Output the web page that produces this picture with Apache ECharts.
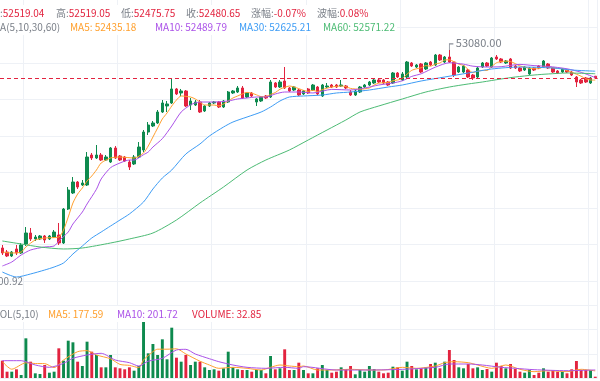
<!DOCTYPE html>
<html><head><meta charset="utf-8">
<script src="https://cdn.jsdelivr.net/npm/echarts@6/dist/echarts.min.js"></script>
<style>html,body{margin:0;padding:0;background:#fff}#c{width:600px;height:381px}</style>
</head><body><div id="c"></div>
<script>
// [open, close, low, high]
const candles = [
[48842,48735,48692,48906],[48756,48671,48649,48799],[48671,48756,48649,48778],[48821,48735,48692,48906],
[48735,48906,48714,48949],[48928,49163,48885,49291],[49163,49035,48992,49270],[49035,49077,48992,49120],
[49035,49099,49013,49120],[49099,49013,48949,49120],[49035,49099,49013,49120],[49077,49184,49056,49227],
[49120,48949,48906,49377],[48949,49676,48928,49698],[49676,50083,49655,50147],[50019,50254,49997,50361],
[50254,50147,50105,50276],[50190,50233,50169,50297],[50190,50789,50169,50896],[50832,50768,50725,50875],
[50768,50832,50747,51046],[50832,50725,50704,50875],[50725,50789,50704,50832],[50682,50982,50661,51003],
[50982,50768,50747,51025],[50811,50725,50704,50832],[50789,50704,50682,50811],[50682,50575,50511,50725],
[50640,50789,50618,50832],[50789,51003,50768,51110],[50939,51324,50896,51367],[51324,51474,51260,51538],
[51453,51517,51431,51560],[51517,51752,51496,51795],[51752,51945,51731,52009],[51881,51924,51752,51988],
[51945,52245,51924,52470],[52245,52138,52116,52266],[52159,52202,52095,52245],[52202,51881,51859,52223],
[51902,51988,51795,52052],[51902,51966,51881,52009],[51966,51752,51731,52009],[51774,51881,51752,51902],
[51881,51945,51859,51966],[51945,51966,51924,51988],[51966,51859,51838,51988],[51859,51988,51838,52009],
[51966,52180,51945,52202],[52159,52202,52138,52223],[52180,52266,52159,52309],[52266,52052,52031,52309],
[52073,52159,52052,52180],[52159,52095,52073,52180],[51966,52031,51881,52052],[51988,52073,51966,52095],
[52095,52052,52031,52116],[52073,52394,52052,52437],[52373,52287,52266,52394],[52287,52394,52266,52437],
[52416,52266,52245,52715],[52266,52202,52180,52287],[52223,52287,52202,52309],[52223,52116,52095,52245],
[52138,52202,52116,52223],[52245,52159,52138,52266],[52223,52330,52202,52352],[52287,52138,52116,52309],
[52095,52330,52073,52352],[52287,52309,52266,52373],[52330,52287,52266,52352],[52330,52287,52266,52352],
[52309,52330,52287,52437],[52309,52266,52245,52330],[52180,52116,52095,52223],[52116,52202,52095,52223],
[52180,52287,52159,52309],[52287,52330,52266,52352],[52330,52394,52309,52416],[52373,52437,52352,52459],
[52437,52394,52373,52459],[52437,52373,52352,52459],[52394,52330,52309,52416],[52373,52587,52352,52608],
[52587,52501,52480,52608],[52437,52566,52416,52608],[52501,52822,52480,52844],[52801,52737,52715,52822],
[52715,52758,52694,52780],[52780,52608,52587,52801],[52673,52801,52651,52822],[52822,52758,52737,52844],
[52758,52972,52737,52994],[52972,52865,52844,52994],[52822,52929,52801,52951],[52929,52822,52801,53080],
[52822,52544,52501,52844],[52608,52715,52587,52737],[52608,52737,52587,52758],[52651,52501,52480,52673],
[52544,52480,52437,52566],[52501,52694,52480,52715],[52715,52801,52694,52822],[52801,52737,52715,52822],
[52715,52908,52694,52929],[52929,52887,52865,52972],[52887,52822,52801,52908],[52801,52844,52780,52865],
[52887,52694,52673,52908],[52737,52694,52673,52758],[52694,52630,52608,52715],[52651,52715,52630,52737],
[52566,52694,52544,52715],[52694,52651,52630,52715],[52737,52694,52673,52758],[52715,52844,52694,52865],
[52780,52694,52673,52801],[52694,52608,52587,52715],[52630,52587,52566,52651],[52608,52673,52587,52694],
[52651,52608,52587,52673],[52608,52544,52523,52630],[52501,52394,52287,52523],[52437,52373,52352,52459],
[52480,52394,52373,52501],[52373,52480,52352,52501],[52519.04,52480.65,52475.75,52519.05]
];
const volumes = [
433,158,158,217,75,992,408,117,100,325,133,158,742,433,933,892,408,300,908,658,
575,267,267,575,267,242,217,267,183,300,1508,617,850,575,967,467,1258,508,408,575,
325,408,408,267,200,217,183,242,658,267,217,200,200,158,200,200,117,550,217,242,
717,200,200,383,200,117,117,242,325,200,133,158,267,225,300,92,200,158,300,225,
158,117,133,283,267,183,408,300,217,242,267,350,383,242,408,700,450,267,242,350,
242,267,200,225,158,383,300,242,350,225,158,133,200,75,133,242,158,183,158,158,
117,217,425,200,200,200,32.85
];
// moving averages: [candle index, value]
const ma5 = [[0,48756],[2,48735],[4,48756],[5,48864],[7,49013],[9,49056],[12,49077],[13,49227],[14,49505],[15,49805],[16,49997],[17,50126],[18,50276],[19,50383],[20,50511],[21,50661],[23,50768],[25,50789],[28,50768],[30,50875],[31,51025],[32,51217],[33,51410],[34,51603],[35,51731],[36,51881],[37,52009],[38,52095],[40,52073],[41,52031],[42,51966],[43,51902],[45,51902],[46,51881],[47,51924],[48,51988],[49,52052],[50,52095],[51,52138],[52,52172],[53,52155],[54,52120],[55,52082],[56,52082],[57,52129],[58,52168],[59,52240],[60,52279],[61,52309],[62,52287],[63,52253],[64,52215],[65,52193],[66,52219],[67,52189],[68,52232],[70,52287],[72,52309],[73,52296],[74,52257],[76,52240],[78,52266],[79,52330],[80,52369],[82,52386],[83,52420],[84,52437],[85,52471],[86,52561],[87,52643],[88,52677],[89,52698],[90,52745],[91,52732],[92,52780],[93,52801],[94,52865],[95,52869],[96,52827],[97,52776],[98,52750],[99,52664],[100,52595],[101,52625],[102,52642],[103,52642],[104,52724],[105,52805],[106,52831],[107,52840],[108,52831],[109,52788],[110,52737],[111,52715],[112,52686],[114,52677],[115,52720],[116,52715],[117,52698],[118,52685],[119,52681],[120,52634],[121,52604],[122,52561],[123,52518],[124,52463],[125,52437],[126,52435.18]];
const ma10 = [[0,48457],[2,48542],[4,48692],[6,48799],[9,48864],[11,48885],[12,48992],[14,49184],[15,49356],[17,49612],[18,49784],[20,50100],[21,50319],[23,50561],[25,50661],[27,50725],[28,50725],[30,50839],[31,50896],[32,51003],[34,51182],[36,51453],[38,51752],[40,51906],[41,51945],[42,51966],[45,51966],[48,51988],[50,52031],[52,52052],[54,52073],[56,52073],[58,52138],[60,52180],[63,52180],[66,52159],[70,52236],[74,52223],[77,52266],[80,52330],[83,52373],[85,52420],[87,52514],[89,52570],[92,52711],[95,52806],[98,52776],[100,52733],[103,52715],[106,52722],[110,52771],[113,52745],[116,52728],[120,52677],[123,52602],[126,52489.79]];
const ma30 = [[0,48328],[3,48221],[6,48286],[9,48371],[11,48435],[13,48521],[15,48714],[17,48885],[19,49056],[21,49184],[23,49313],[25,49441],[27,49570],[30,49826],[32,50105],[34,50340],[36,50511],[39,50854],[42,51068],[44,51239],[47,51431],[49,51538],[52,51645],[55,51752],[57,51859],[59,51988],[61,52073],[64,52095],[68,52116],[71,52159],[74,52180],[78,52223],[82,52287],[85,52330],[89,52416],[94,52501],[99,52587],[104,52673],[110,52715],[117,52694],[121,52651],[126,52625.21]];
const ma60 = [[0,48992],[4,48928],[8,48864],[13,48821],[17,48842],[23,48949],[27,49035],[32,49163],[37,49441],[42,49805],[47,50147],[52,50511],[56,50725],[61,50939],[65,51153],[69,51367],[73,51581],[76,51752],[80,51881],[85,52031],[90,52180],[95,52287],[99,52352],[102,52394],[106,52459],[109,52501],[113,52544],[116,52566],[120,52587],[126,52571.22]];
const volMa5 = [[0,408],[2,220],[5,380],[7,362],[9,360],[11,260],[13,450],[16,658],[18,683],[20,575],[23,480],[25,340],[27,315],[29,260],[30,450],[31,560],[33,720],[35,720],[37,730],[39,600],[42,420],[44,325],[46,242],[49,267],[52,242],[55,200],[57,267],[59,325],[61,300],[63,283],[64,300],[67,200],[70,200],[74,217],[78,200],[81,200],[85,267],[88,242],[92,300],[94,383],[96,408],[99,383],[101,325],[104,242],[107,325],[110,217],[113,158],[116,183],[120,158],[123,217],[126,177.59]];
const volMa10 = [[0,433],[4,433],[7,325],[10,267],[13,367],[15,492],[18,575],[21,617],[24,450],[27,383],[29,300],[31,420],[34,492],[37,700],[39,717],[41,600],[44,482],[46,408],[49,325],[52,267],[56,242],[60,267],[63,242],[64,283],[71,200],[78,200],[85,217],[92,267],[95,350],[99,350],[102,325],[106,267],[109,242],[113,208],[120,183],[126,201.72]];
const categories = candles.map((_, i) => String(i + 1));
const infoLabels = ['开', '高', '低', '收', '涨幅', '波幅'];
const changeTexts = ['-0.07%', '0.08%'];
const lowLabel = '48100.92';

const UP = '#0e8a4e', DOWN = '#e2233f';
const C5 = '#ffa02e', C10 = '#ab52e8', C30 = '#3d9cf5', C60 = '#4cbb74';
const GREY = '#7b8089', GRID = '#eef1f6';
const FONT = "'Noto Sans CJK SC', 'Noto Sans', sans-serif";
const LFONT = '10px ' + FONT;
const last = candles[candles.length - 1];
const lastClose = last[1];
const fmt = v => Number(v).toFixed(2);
const lastOf = a => a[a.length - 1][1];

function txt(x, y, parts, padR) {
  const rich = {}; let s = '';
  parts.forEach((p, i) => { rich['p' + i] = { fill: p[1], font: LFONT }; s += '{p' + i + '|' + p[0] + '}'; });
  return { type: 'text', x: x, y: y, silent: true, z: 100,
    style: { text: s, rich: rich, verticalAlign: 'middle', font: LFONT,
      backgroundColor: '#fff', padding: [3, padR, 3, 0] } };
}
const vals = [last[0], last[3], last[2], last[1]];
const graphics = [];
const row1x = [-10, 56, 121, 186, 251, 317];
for (let i = 0; i < 4; i++) graphics.push(txt(row1x[i], 13, [[infoLabels[i] + ':', GREY], [fmt(vals[i]), DOWN]], 16));
graphics.push(txt(row1x[4], 13, [[infoLabels[4] + ':', GREY], [changeTexts[0], DOWN]], 16));
graphics.push(txt(row1x[5], 13, [[infoLabels[5] + ':', GREY], [changeTexts[1], DOWN]], 2));
graphics.push(txt(-8, 27, [['MA(5,10,30,60)', GREY]], 16));
graphics.push(txt(70, 27, [['MA5: ' + fmt(lastOf(ma5)), C5]], 20));
graphics.push(txt(155, 27, [['MA10: ' + fmt(lastOf(ma10)), C10]], 16));
graphics.push(txt(239, 27, [['MA30: ' + fmt(lastOf(ma30)), C30]], 16));
graphics.push(txt(323, 27, [['MA60: ' + fmt(lastOf(ma60)), C60]], 2));
graphics.push(txt(-6, 314, [['VOL(5,10)', GREY]], 16));
graphics.push(txt(48, 314, [['MA5: ' + fmt(lastOf(volMa5)), C5]], 16));
graphics.push(txt(117, 314, [['MA10: ' + fmt(lastOf(volMa10)), C10]], 16));
graphics.push(txt(192, 314, [['VOLUME: ' + fmt(volumes[volumes.length - 1]), DOWN]], 2));
graphics.push({ type: 'text', x: 23, y: 281, silent: true, z: 100, style: { text: lowLabel, align: 'right', verticalAlign: 'middle', fill: GREY, font: LFONT } });

const splitX = { show: true, interval: (i) => i % 20 === 5, lineStyle: { color: GRID, width: 1 } };
const grids = [
  { left: -3.5, right: 2.4, top: 27, height: 254 },
  { left: -3.5, right: 2.4, top: 281, height: 97 },
  { left: -3.5, right: 2.4, top: 0, height: 27 }
];
const line = (name, data, color, xi) => ({
  name, type: 'line', data, xAxisIndex: xi, yAxisIndex: xi, showSymbol: false, symbol: 'none',
  smooth: 0.25, silent: true, z: 4, lineStyle: { color, width: 1 }
});
const hiddenY = { axisLine: { show: false }, axisTick: { show: false }, axisLabel: { show: false } };

const chart = echarts.init(document.getElementById('c'), null, { renderer: 'canvas' });
chart.setOption({
  animation: false,
  backgroundColor: '#fff',
  grid: grids,
  graphic: graphics,
  xAxis: [0, 1, 2].map(i => ({
    type: 'category', gridIndex: i, data: categories, boundaryGap: true,
    axisLine: { show: false }, axisTick: { show: false }, axisLabel: { show: false }, splitLine: splitX
  })),
  yAxis: [
    Object.assign({ type: 'value', gridIndex: 0, min: 48135.8, max: 53571.3, interval: 776.5, splitLine: { show: true, lineStyle: { color: GRID, width: 1 } } }, hiddenY),
    Object.assign({ type: 'value', gridIndex: 1, min: 0, max: 2425, interval: 606.25, splitLine: { show: true, lineStyle: { color: GRID, width: 1 } } }, hiddenY),
    Object.assign({ type: 'value', gridIndex: 2, min: 0, max: 1, splitLine: { show: false } }, hiddenY)
  ],
  series: [
    {
      type: 'candlestick', data: candles, xAxisIndex: 0, yAxisIndex: 0, barWidth: '62%', silent: true, z: 3,
      itemStyle: { color: UP, color0: DOWN, borderColor: UP, borderColor0: DOWN, borderWidth: 1 },
      markLine: {
        silent: true, symbol: ['none', 'none'], label: { show: false },
        lineStyle: { color: DOWN, type: [4, 3], width: 1 },
        data: [{ yAxis: lastClose }]
      },
      markPoint: {
        silent: true,
        symbol: 'path://M0,6 L0,0 L4,0', symbolSize: [4, 6], symbolOffset: [2, -3],
        itemStyle: { color: 'rgba(0,0,0,0)', borderColor: '#8a8f99', borderWidth: 1 },
        label: { show: true, position: 'right', distance: 2, offset: [0, -4], color: GREY, fontSize: 11, fontFamily: FONT, formatter: p => fmt(p.value) },
        data: [{ type: 'max', valueDim: 'highest' }]
      }
    },
    line('MA5', ma5, C5, 0), line('MA10', ma10, C10, 0), line('MA30', ma30, C30, 0), line('MA60', ma60, C60, 0),
    {
      type: 'bar', xAxisIndex: 1, yAxisIndex: 1, barWidth: '62%', silent: true,
      data: volumes.map((v, i) => ({ value: v, itemStyle: { color: candles[i][1] >= candles[i][0] ? UP : DOWN } }))
    },
    line('VMA5', volMa5, C5, 1), line('VMA10', volMa10, C10, 1)
  ]
});
</script></body></html>
